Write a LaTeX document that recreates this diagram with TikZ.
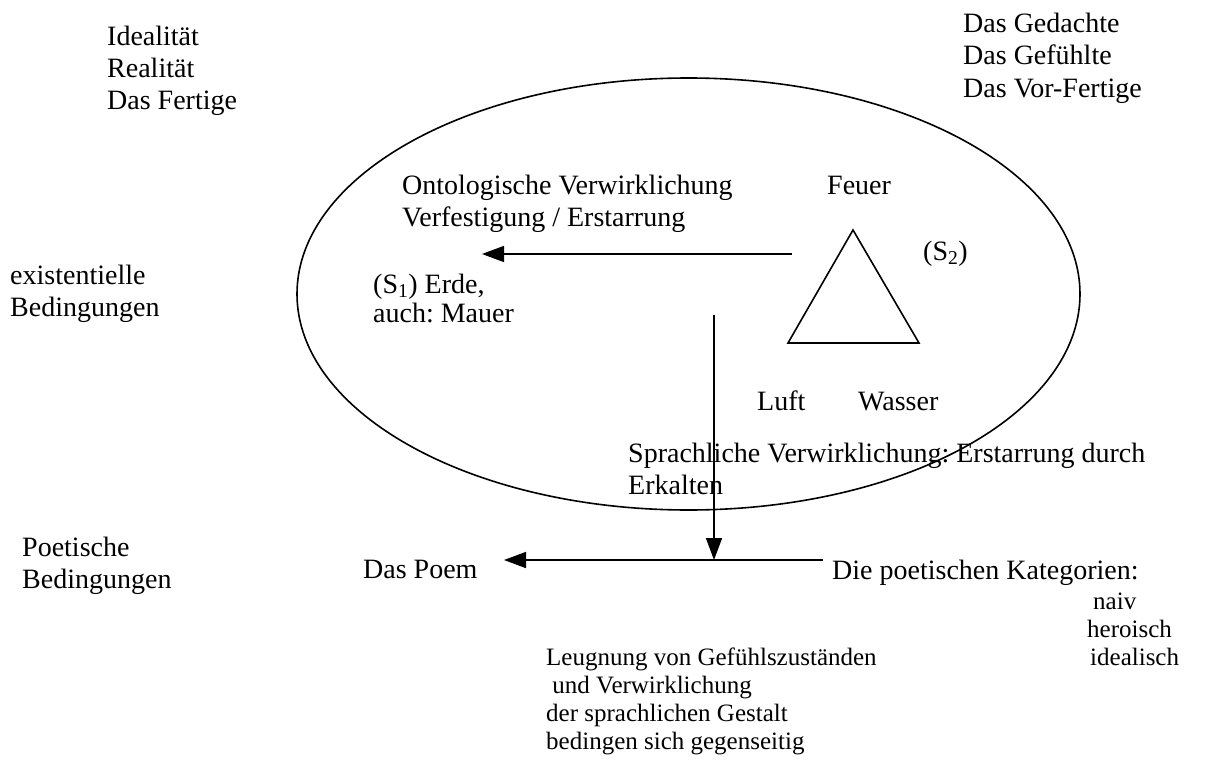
\documentclass[tikz,border=0pt]{standalone}
\usepackage{fontspec}
\setmainfont{Liberation Serif}
\usetikzlibrary{arrows.meta}
\frenchspacing
\tikzset{
  txt/.style={anchor=base west, inner sep=0pt, font=\fontsize{28}{32}\selectfont},
  small/.style={anchor=base west, inner sep=0pt, font=\fontsize{25}{28}\selectfont},
  line/.style={line width=1.6pt},
  arr/.style={line width=1.6pt, -{Triangle[length=22pt,width=16pt]}}
}
\begin{document}
\begin{tikzpicture}[x=1pt,y=-1pt]
\useasboundingbox (0,0) rectangle (1221,765);
% the ellipse
\draw[line] (688.5,294) ellipse [x radius=391.5, y radius=216];
% the triangle of the elements
\draw[line, line join=miter] (853,230) -- (919,343) -- (788,343) -- cycle;
% upper left column
\node[txt] (ideal) at (107,46) {Idealität};
\node[txt] (real) at (107,78) {Realität};
\node[txt] (fert) at (107,110) {Das Fertige};
% upper right column
\node[txt] (ged) at (963,33) {Das Gedachte};
\node[txt] (gef) at (963,65) {Das Gefühlte};
\node[txt] (vorf) at (963,98) {Das Vor-Fertige};
% conditions on the left
\node[txt] (ex1) at (10,284) {existentielle};
\node[txt] (ex2) at (10,316) {Bedingungen};
\node[txt] (po1) at (22,556) {Poetische};
\node[txt] (po2) at (22,588) {Bedingungen};
% inside the ellipse
\node[txt] (ont1) at (402,194) {Ontologische Verwirklichung};
\node[txt] (ont2) at (402,226) {Verfestigung / Erstarrung};
\node[txt] (feuer) at (827,194) {Feuer};
\node[txt] (s2) at (923,260) {(S\textsubscript{2})};
\node[txt] (s1) at (373,293) {(S\textsubscript{1}) Erde,};
\node[txt] (mauer) at (373,322) {auch: Mauer};
\node[txt] (luft) at (757,410) {Luft};
\node[txt] (wasser) at (858,410) {Wasser};
\node[txt] (spr1) at (628,462) {Sprachliche Verwirklichung: Erstarrung durch};
\node[txt] (spr2) at (628,494) {Erkalten};
% bottom row
\node[txt] (poem) at (363,578) {Das Poem};
\node[txt] (kat) at (832,579) {Die poetischen Kategorien:};
\node[small] (naiv) at (1093,609) {naiv};
\node[small] (hero) at (1087,637) {heroisch};
\node[small] (idea) at (1090,665) {idealisch};
\node[small] (l1) at (546,665) {Leugnung von Gefühlszuständen};
\node[small] (l2) at (546,693) {\ und Verwirklichung};
\node[small] (l3) at (546,721) {der sprachlichen Gestalt};
\node[small] (l4) at (546,749) {bedingen sich gegenseitig};
% arrows
\coordinate (a1s) at (792,254);
\coordinate (a1e) at (482,254);
\draw[arr] (a1s) -- (a1e);
\coordinate (vs) at (714,315);
\coordinate (ve) at (714,560);
\draw[arr] (vs) -- (ve);
\coordinate (hs) at (823,560);
\coordinate (he) at (504,560);
\draw[arr] (hs) -- (he);
\end{tikzpicture}
\end{document}
